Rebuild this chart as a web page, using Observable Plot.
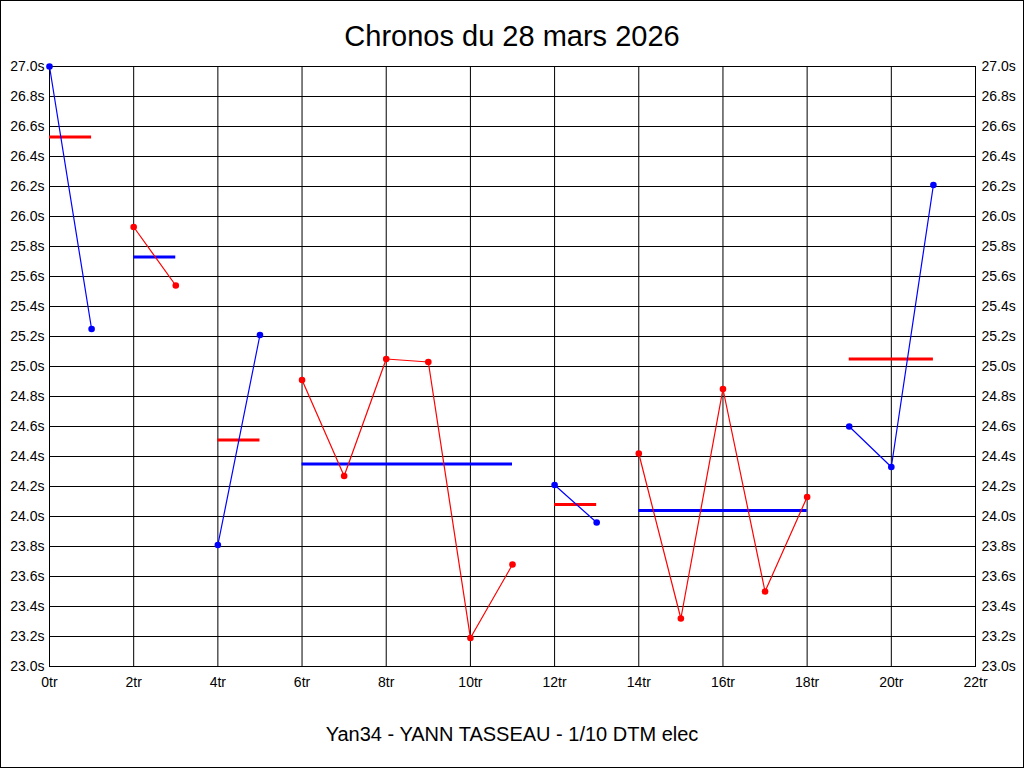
<!DOCTYPE html>
<html><head><meta charset="utf-8">
<script src="https://cdn.jsdelivr.net/npm/d3@7"></script>
<script src="https://cdn.jsdelivr.net/npm/@observablehq/plot@0.6"></script>
<style>
body{margin:0;background:#fff;}
#wrap{position:relative;width:1024px;height:768px;overflow:hidden;background:#fff;}
#title{position:absolute;left:0;top:19px;width:1024px;text-align:center;font:29px/34px "Liberation Sans",Arial,sans-serif;color:#000;}
#caption{position:absolute;left:0;top:721px;width:1024px;text-align:center;font:20px/26px "Liberation Sans",Arial,sans-serif;color:#000;}
#border{position:absolute;left:0;top:0;width:1024px;height:768px;box-sizing:border-box;border:1px solid #000;pointer-events:none;}
#chart{position:absolute;left:0;top:0;}
</style></head><body>
<div id="wrap"><div id="chart"></div><div id="title">Chronos du 28 mars 2026</div><div id="caption">Yan34 - YANN TASSEAU - 1/10 DTM elec</div><div id="border"></div></div>
<script>
// Lap numbers and chrono times (seconds)
const laps = [0,1,2,3,4,5,6,7,8,9,10,11,12,13,14,15,16,17,18,19,20,21];
const times = [27.00,25.25,25.93,25.54,23.81,25.21,24.91,24.27,25.05,25.03,23.19,23.68,24.21,23.96,24.42,23.32,24.85,23.50,24.13,24.60,24.33,26.21];
const segment = [1,1,2,2,3,3,4,4,4,4,4,4,5,5,6,6,6,6,6,7,7,7];
const segColors = ["#0000ff","#ff0000","#0000ff","#ff0000","#0000ff","#ff0000","#0000ff"];
// Segment mean lines
const segStart = [0,2,4,6,12,14,19];
const segEnd = [1,3,5,11,13,18,21];
const segMean = [26.53,25.73,24.51,24.35,24.08,24.04,25.05];
const meanColors = ["#ff0000","#0000ff","#ff0000","#0000ff","#ff0000","#0000ff","#ff0000"];
// Ticks
const xTicks = [0,2,4,6,8,10,12,14,16,18,20,22];
const yTicks = [23.0,23.2,23.4,23.6,23.8,24.0,24.2,24.4,24.6,24.8,25.0,25.2,25.4,25.6,25.8,26.0,26.2,26.4,26.6,26.8,27.0];

const pts = laps.map((l,i)=>({lap:l, time:times[i], seg:segment[i], color:segColors[segment[i]-1]}));
const means = segMean.map((m,i)=>({x1:segStart[i], x2:segEnd[i], y:m, color:meanColors[i]}));
const yFmt = d => d.toFixed(1)+"s";

const chart = Plot.plot({
  width:1024, height:768,
  marginLeft:49, marginRight:49, marginTop:66, marginBottom:102,
  x:{domain:[0,22]},
  y:{domain:[23,27]},
  color:{type:"identity"},
  style:{fontFamily:'"Liberation Sans",Arial,sans-serif', fontSize:"14px", color:"#000", background:"transparent"},
  marks:[
    Plot.gridX(xTicks,{stroke:"#000", strokeOpacity:1}),
    Plot.gridY(yTicks,{stroke:"#000", strokeOpacity:1}),
    Plot.frame({stroke:"#000"}),
    Plot.axisX(xTicks,{tickSize:0, tickPadding:11, tickFormat:d=>d+"tr", label:null}),
    Plot.axisY(yTicks,{anchor:"left", tickSize:0, tickPadding:5, tickFormat:yFmt, label:null}),
    Plot.axisY(yTicks,{anchor:"right", tickSize:0, tickPadding:6, tickFormat:yFmt, label:null}),
    Plot.ruleY(means,{y:"y", x1:"x1", x2:"x2", stroke:"color", strokeWidth:3}),
    Plot.line(pts,{x:"lap", y:"time", z:"seg", stroke:"color", strokeWidth:1.2}),
    Plot.dot(pts,{x:"lap", y:"time", r:3.3, fill:"color", stroke:null})
  ]
});
document.getElementById("chart").appendChild(chart);
</script>
</body></html>
